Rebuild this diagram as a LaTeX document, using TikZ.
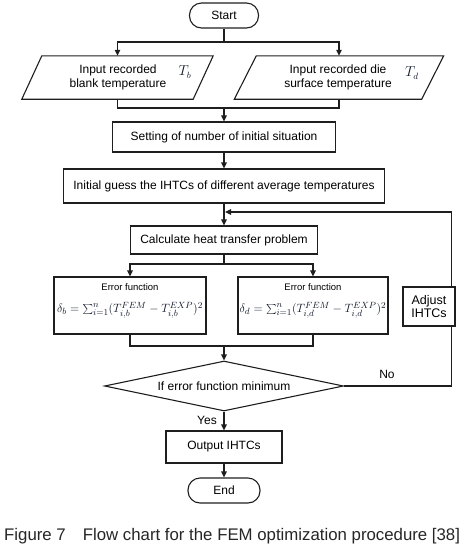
\documentclass[tikz,border=0pt]{standalone}
\usepackage{fontspec}
\setmainfont{Liberation Sans}
\usetikzlibrary{shapes.geometric,arrows.meta,calc}
\definecolor{ln}{HTML}{1E1E1E}
\definecolor{mathc}{HTML}{101828}
\begin{document}
\begin{tikzpicture}[x=1pt,y=-1pt,
  line/.style={draw=ln, line width=1.1pt},
  arr/.style={line, -{Triangle[length=6pt,width=5.5pt]}},
  box/.style={draw=ln, line width=1.1pt, rectangle, inner sep=0pt, font=\fontsize{12}{14}\selectfont, align=center},
  term/.style={box, rounded corners=12pt},
  txt/.style={inner sep=0pt, font=\fontsize{12}{14}\selectfont, align=center},
  small/.style={inner sep=0pt, font=\fontsize{9.5}{11}\selectfont},
  formula/.style={inner sep=0pt, font=\fontsize{12.8}{15}\selectfont, text=mathc}]
\useasboundingbox (0,0) rectangle (471,547);

% nodes
\node[term, minimum width=69pt, minimum height=25pt] (start) at (224,15.5) {Start};

\node[inner sep=0pt, minimum width=171pt, minimum height=43pt] (inb) at (117.5,77.5) {};
\draw[line] ($(inb.south west)+(-10,0)$) -- ($(inb.south east)+(-10,0)$) -- ($(inb.north east)+(10,0)$) -- ($(inb.north west)+(10,0)$) -- cycle;
\node[txt] (inbt) at (118,77) {Input recorded\\blank temperature};
\node[formula, font=\fontsize{13.5}{15}\selectfont] (tb) at (185,72) {$T_b$};

\node[inner sep=0pt, minimum width=187pt, minimum height=43pt] (ind) at (339,77.5) {};
\draw[line] ($(ind.south west)+(-11,0)$) -- ($(ind.south east)+(-11,0)$) -- ($(ind.north east)+(11,0)$) -- ($(ind.north west)+(11,0)$) -- cycle;
\node[txt] (indt) at (338,77) {Input recorded die\\surface temperature};
\node[formula, font=\fontsize{13.5}{15}\selectfont] (td) at (412,73) {$T_d$};

\node[box, minimum width=223pt, minimum height=30pt] (set) at (224,137) {Setting of number of initial situation};
\node[box, minimum width=321pt, minimum height=34pt] (ini) at (224,186) {Initial guess the IHTCs of different average temperatures};
\node[box, minimum width=187pt, minimum height=28pt] (calc) at (224,240) {Calculate heat transfer problem};

\node[box, minimum width=152pt, minimum height=57pt] (eb) at (130,305.5) {};
\node[small] (ebt) at (130,287) {Error function};
\node[formula] (ebf) at (130,310) {$\delta_b = \sum_{i=1}^{n}(T_{i,b}^{FEM}-T_{i,b}^{EXP})^2$};

\node[box, minimum width=150pt, minimum height=57pt] (ed) at (313,305.5) {};
\node[small] (edt) at (313,287) {Error function};
\node[formula] (edf) at (313,310) {$\delta_d = \sum_{i=1}^{n}(T_{i,d}^{FEM}-T_{i,d}^{EXP})^2$};

\node[box, minimum width=52pt, minimum height=39pt, font=\fontsize{12.5}{13.5}\selectfont] (adj) at (429,306.5) {Adjust\\IHTCs};

\node[diamond, draw=ln, line width=1.1pt, shape aspect=4.8, minimum width=239pt, minimum height=50pt, inner sep=0pt, font=\fontsize{12}{14}\selectfont] (dec) at (224,386) {If error function minimum};

\node[box, minimum width=116pt, minimum height=32pt] (out) at (224,447) {Output IHTCs};
\node[term, minimum width=72pt, minimum height=25pt] (end) at (224,490.5) {End};

\node[txt, anchor=east] (yes) at (217,420) {Yes};
\node[txt] (no) at (387,374) {No};

\node[anchor=west, inner sep=0pt, font=\fontsize{16.8}{20}\selectfont, text=black!85] (cap) at (4,536) {Figure 7\hspace{17pt}Flow chart for the FEM optimization procedure [38]};

% connectors
\coordinate (s1) at (224,42);
\draw[line] (start.south) -- (s1);
\draw[arr] (s1) -| (inb.north);
\draw[arr] (s1) -| (ind.north);

\coordinate (m1) at (224,108);
\draw[line] (inb.south) |- (m1);
\draw[line] (ind.south) |- (m1);
\draw[arr] (m1) -- (set.north);

\draw[arr] (set.south) -- (ini.north);
\draw[arr] (ini.south) -- (calc.north);

\coordinate (c1) at (224,264);
\draw[line] (calc.south) -- (c1);
\draw[arr] (c1) -| (eb.north);
\draw[arr] (c1) -| (ed.north);

\coordinate (e1) at (224,346);
\draw[line] (eb.south) |- (e1);
\draw[line] (ed.south) |- (e1);
\draw[arr] (e1) -- (dec.north);

\draw[arr] (dec.south) -- (out.north);
\draw[arr] (out.south) -- (end.north);

\coordinate (fb) at (225,212);
\draw[line] (dec.east) -| ([xshift=-4pt]adj.south east);
\draw[arr] ([xshift=-4pt]adj.north east) |- (fb);
\end{tikzpicture}
\end{document}
